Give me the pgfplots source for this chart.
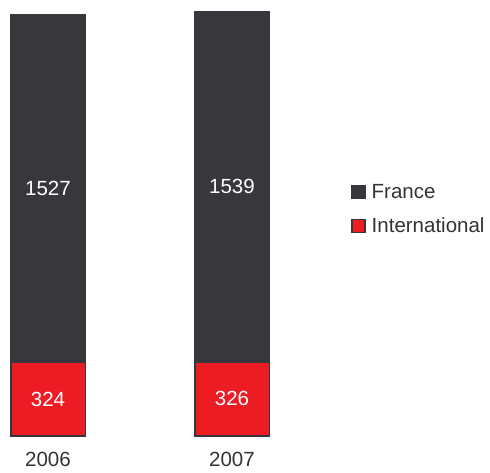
\documentclass[border=0pt]{standalone}
\usepackage{pgfplots}
\pgfplotsset{compat=1.18}
\usepackage{fontspec}
\setmainfont{Liberation Sans}
\definecolor{darkbar}{HTML}{38373C}
\definecolor{redbar}{HTML}{ED1C24}
\definecolor{txt}{HTML}{333333}
\begin{document}
\begin{tikzpicture}
\begin{axis}[
  at={(0pt,0pt)}, anchor=south west,
  scale only axis,
  width=490pt, height=436pt,
  xmin=2005.7391, xmax=2008.4022,
  ymin=0, ymax=1917,
  ybar stacked,
  bar width=74.5pt,
  axis line style={draw=none},
  tick style={draw=none},
  ytick=\empty,
  xtick={2006,2007},
  /pgf/number format/1000 sep={},
  /pgf/number format/assume math mode=true,
  xticklabel style={font=\fontsize{20.5}{24}\selectfont, text=txt, yshift=-13pt},
  clip=false,
  reverse legend,
  legend style={at={(351pt,227pt)}, anchor=west, draw=none, fill=none,
    font=\fontsize{20.5}{24}\selectfont, text=txt, inner sep=0pt, row sep=14pt, column sep=4pt,
    nodes={inner sep=2pt}},
  legend cell align=left,
  legend image code/.code={\draw[#1, draw=darkbar, line width=1.3pt] (0.65pt,-6.6pt) rectangle (13.85pt,6.6pt);},
]
\addplot[fill=redbar, draw=darkbar, line width=1.5pt,
  point meta=rawy, nodes near coords,
  every node near coord/.append style={anchor=center, text=white, font=\fontsize{20.5}{24}\selectfont}]
  coordinates {(2006,324) (2007,326)};
\addlegendentry{International}
\addplot[fill=darkbar, draw=darkbar, line width=1.5pt,
  point meta=rawy, nodes near coords,
  every node near coord/.append style={anchor=center, text=white, font=\fontsize{20.5}{24}\selectfont}]
  coordinates {(2006,1527) (2007,1539)};
\addlegendentry{France}
\end{axis}
\pgfresetboundingbox
\path (0pt,-37pt) rectangle (490pt,436pt);
\end{tikzpicture}
\end{document}
